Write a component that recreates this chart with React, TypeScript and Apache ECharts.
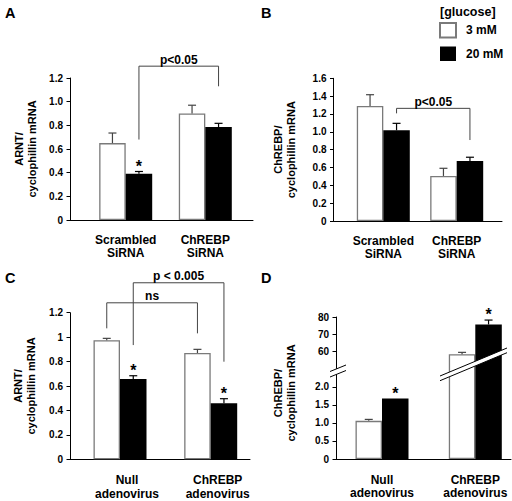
import React, { useEffect, useRef } from "react";
import * as echarts from "echarts";

// ---------------- data ----------------
const glucoseLevels = ["3 mM", "20 mM"];
const sirnaCategories = ["Scrambled\nSiRNA", "ChREBP\nSiRNA"];
const adenoCategories = ["Null\nadenovirus", "ChREBP\nadenovirus"];

// A: ARNT / cyclophillin mRNA, siRNA
const arntSirna3 = [0.65, 0.9];
const arntSirna20 = [0.39, 0.785];
const arntSirnaErr3 = [0.085, 0.07];
const arntSirnaErr20 = [0.02, 0.032];

// B: ChREBP / cyclophillin mRNA, siRNA
const chrebpSirna3 = [1.29, 0.505];
const chrebpSirna20 = [1.017, 0.673];
const chrebpSirnaErr3 = [0.126, 0.086];
const chrebpSirnaErr20 = [0.078, 0.042];

// C: ARNT / cyclophillin mRNA, adenovirus
const arntAdeno3 = [0.974, 0.87];
const arntAdeno20 = [0.657, 0.458];
const arntAdenoErr3 = [0.016, 0.03];
const arntAdenoErr20 = [0.027, 0.038];

// D: ChREBP / cyclophillin mRNA, adenovirus (broken axis)
const chrebpAdeno3 = [1.06, 58.1];
const chrebpAdeno20 = [1.68, 75.6];
const chrebpAdenoErr3 = [0.04, 1.1];
const chrebpAdenoErr20 = [0, 2.6];

const ticksA = [0, 0.2, 0.4, 0.6, 0.8, 1.0, 1.2];
const tickLabelsA = ["0", "0.2", "0.4", "0.6", "0.8", "1.0", "1.2"];
const ticksB = [0, 0.2, 0.4, 0.6, 0.8, 1.0, 1.2, 1.4, 1.6];
const tickLabelsB = ["0", "0.2", "0.4", "0.6", "0.8", "1.0", "1.2", "1.4", "1.6"];
const ticksC = [0, 0.2, 0.4, 0.6, 0.8, 1, 1.2];
const tickLabelsC = ["0", "0.2", "0.4", "0.6", "0.8", "1", "1.2"];
const ticksD = [0, 0.5, 1, 1.5, 2, 60, 70, 80];
const tickLabelsD = ["0", "0.5", "1.0", "1.5", "2.0", "60", "70", "80"];
const breakD = [2.4, 47.3]; // lower segment ends / upper segment starts

// brackets: [group1, bar1, y1, group2, bar2, y2, top]  (bar 0 = 3 mM, 1 = 20 mM)
const bracketsA = [[0, 1, 0.68, 1, 1, 1.13, 1.3]];
const bracketLabelsA = ["p<0.05"];
const bracketsB = [[0, 1, 1.207, 1, 1, 0.908, 1.263]];
const bracketLabelsB = ["p<0.05"];
const bracketsC = [
  [0, 0, 1.072, 1, 0, 1.031, 1.281],
  [0, 1, 0.935, 1, 1, 0.799, 1.445],
];
const bracketLabelsC = ["ns", "p < 0.005"];

// stars: [group, bar]
const starsA = [[0, 1]];
const starsB: number[][] = [];
const starsC = [[0, 1], [1, 1]];
const starsD = [[0, 1], [1, 1]];

// ---------------- style / layout ----------------
const FONT = "'Liberation Sans Narrow', 'Liberation Sans', Arial, sans-serif";
const FONT_WIDE = "'Liberation Sans', Arial, sans-serif";
const BAR_W = 26.5;
const D_RATIO = 1.7 / 36;
const identity = (v: number) => v;
const tfD = (v: number) => (v <= breakD[0] ? v : breakD[0] + (v - breakD[1]) * D_RATIO);

const panels = [
  {
    cats: sirnaCategories, v3: arntSirna3, v20: arntSirna20, e3: arntSirnaErr3, e20: arntSirnaErr20,
    ticks: ticksA, tickLabels: tickLabelsA, brackets: bracketsA, bracketLabels: bracketLabelsA, stars: starsA,
    tf: identity, yMax: 1.2, yTitle: "ARNT/\ncyclophillin mRNA",
    left: 70, right: 253, top: 78, bottom: 220, centers: [125.7, 205.3], nameGap: 32, labelMargin: 13, labelShift: 0,
  },
  {
    cats: sirnaCategories, v3: chrebpSirna3, v20: chrebpSirna20, e3: chrebpSirnaErr3, e20: chrebpSirnaErr20,
    ticks: ticksB, tickLabels: tickLabelsB, brackets: bracketsB, bracketLabels: bracketLabelsB, stars: starsB,
    tf: identity, yMax: 1.6, yTitle: "ChREBP/\ncyclophillin mRNA",
    left: 333.5, right: 502, top: 78.3, bottom: 221, centers: [383.3, 456.7], nameGap: 36, labelMargin: 13, labelShift: 0,
  },
  {
    cats: adenoCategories, v3: arntAdeno3, v20: arntAdeno20, e3: arntAdenoErr3, e20: arntAdenoErr20,
    ticks: ticksC, tickLabels: tickLabelsC, brackets: bracketsC, bracketLabels: bracketLabelsC, stars: starsC,
    tf: identity, yMax: 1.2, yTitle: "ARNT/\ncyclophillin mRNA",
    left: 70, right: 250, top: 312.7, bottom: 459.3, centers: [120, 210.7], nameGap: 33, labelMargin: 14, labelShift: 14,
  },
  {
    cats: adenoCategories, v3: chrebpAdeno3, v20: chrebpAdeno20, e3: chrebpAdenoErr3, e20: chrebpAdenoErr20,
    ticks: ticksD, tickLabels: tickLabelsD, brackets: [] as number[][], bracketLabels: [] as string[], stars: starsD,
    tf: tfD, yMax: tfD(80), yTitle: "",
    left: 336, right: 511, top: 317, bottom: 459, centers: [382, 475.3], nameGap: 33, labelMargin: 14, labelShift: 0,
  },
];

const AXIS_COLOR = "#000";

function buildOption() {
  const grid: any[] = [];
  const xAxis: any[] = [];
  const yAxis: any[] = [];
  const series: any[] = [];

  panels.forEach((p, i) => {
    const unit = p.centers[1] - p.centers[0];
    const xMin = -(p.centers[0] - p.left) / unit;
    const xMax = 1 + (p.right - p.centers[1]) / unit;
    grid.push({
      left: p.left, top: p.top, width: p.right - p.left, height: p.bottom - p.top,
      containLabel: false, outerBoundsMode: "none",
    });
    xAxis.push({
      gridIndex: i, type: "value", min: xMin, max: xMax,
      axisLine: { show: true, onZero: false, lineStyle: { color: AXIS_COLOR, width: 1 } },
      axisTick: { show: false },
      splitLine: { show: false },
      axisLabel: {
        customValues: [0, 1],
        formatter: (v: number) => p.cats[Math.round(v)] ?? "",
        fontSize: 12, fontWeight: "bold", fontFamily: FONT, color: "#000", lineHeight: 13.5,
        margin: p.labelMargin,
        padding: [0, 0, 0, p.labelShift],
      },
    });
    const tickVals = p.ticks.map(p.tf);
    yAxis.push({
      gridIndex: i, type: "value", min: 0, max: p.yMax,
      axisLine: { show: true, onZero: false, lineStyle: { color: AXIS_COLOR, width: 1 } },
      axisTick: { show: true, length: 3.5, customValues: tickVals, lineStyle: { color: AXIS_COLOR, width: 1 } },
      splitLine: { show: false },
      axisLabel: {
        customValues: tickVals,
        formatter: (v: number) => {
          const k = tickVals.findIndex((t) => Math.abs(t - v) < 1e-6);
          return k >= 0 ? p.tickLabels[k] : "";
        },
        fontSize: 10, fontWeight: "bold", fontFamily: FONT, color: "#000", margin: 7,
      },
      name: p.yTitle,
      nameLocation: "middle",
      nameRotate: 90,
      nameGap: p.nameGap,
      nameTextStyle: { fontSize: 11, fontWeight: "bold", fontFamily: FONT_WIDE, color: "#000", lineHeight: 13, align: "center" },
    });

    // bars
    series.push({
      type: "bar", name: glucoseLevels[0], xAxisIndex: i, yAxisIndex: i,
      data: p.v3.map((v, g) => [g, p.tf(v)]),
      barWidth: BAR_W, barGap: "0%",
      itemStyle: { color: "#fff", borderColor: "#7a7a7a", borderWidth: 1.3 },
      z: 2, silent: true,
    });
    series.push({
      type: "bar", name: glucoseLevels[1], xAxisIndex: i, yAxisIndex: i,
      data: p.v20.map((v, g) => [g, p.tf(v)]),
      barWidth: BAR_W, barGap: "0%",
      itemStyle: { color: "#000", borderColor: "#000", borderWidth: 0 },
      z: 2, silent: true,
    });

    // error bars
    const errData: number[][] = [];
    [p.v3, p.v20].forEach((vals, s) => {
      const errs = s === 0 ? p.e3 : p.e20;
      vals.forEach((v, g) => {
        if (errs[g] > 0) errData.push([g, s, p.tf(v), p.tf(v + errs[g])]);
      });
    });
    series.push({
      type: "custom", xAxisIndex: i, yAxisIndex: i, silent: true, z: 3,
      data: errData,
      renderItem: (params: any, api: any) => {
        const g = api.value(0);
        const s = api.value(1);
        const base = api.coord([g, api.value(2)]);
        const tip = api.coord([g, api.value(3)]);
        const x = base[0] + (s === 0 ? -BAR_W / 2 : BAR_W / 2);
        const stroke = s === 0 ? "#444" : "#000";
        return {
          type: "group",
          children: [
            { type: "line", shape: { x1: x, y1: base[1], x2: x, y2: tip[1] }, style: { stroke, lineWidth: 1.2 } },
            { type: "line", shape: { x1: x - 4, y1: tip[1], x2: x + 4, y2: tip[1] }, style: { stroke, lineWidth: 1.2 } },
          ],
        };
      },
    });

    // significance brackets
    if (p.brackets.length) {
      series.push({
        type: "custom", xAxisIndex: i, yAxisIndex: i, silent: true, z: 4,
        data: p.brackets.map((b) => [b[0], b[1], p.tf(b[2]), b[3], b[4], p.tf(b[5]), p.tf(b[6])]),
        renderItem: (params: any, api: any) => {
          const a = api.coord([api.value(0), api.value(2)]);
          const b = api.coord([api.value(3), api.value(5)]);
          const t = api.coord([api.value(0), api.value(6)]);
          const xa = a[0] + (api.value(1) === 0 ? -1 : 1) * (BAR_W / 2);
          const xb = b[0] + (api.value(4) === 0 ? -1 : 1) * (BAR_W / 2);
          return {
            type: "group",
            children: [
              {
                type: "polyline",
                shape: { points: [[xa, a[1]], [xa, t[1]], [xb, t[1]], [xb, b[1]]] },
                style: { stroke: "#444", lineWidth: 1, fill: "none" },
              },
              {
                type: "text", x: (xa + xb) / 2, y: t[1] - 6.5,
                style: {
                  text: p.bracketLabels[params.dataIndex], align: "center", verticalAlign: "middle",
                  fontSize: 12, fontWeight: "bold", fontFamily: FONT, fill: "#000",
                },
              },
            ],
          };
        },
      });
    }

    // significance stars
    if (p.stars.length) {
      series.push({
        type: "custom", xAxisIndex: i, yAxisIndex: i, silent: true, z: 4,
        data: p.stars.map(([g, s]) => {
          const v = (s === 0 ? p.v3 : p.v20)[g];
          const e = (s === 0 ? p.e3 : p.e20)[g];
          return [g, s, p.tf(v + e)];
        }),
        renderItem: (params: any, api: any) => {
          const pt = api.coord([api.value(0), api.value(2)]);
          const x = pt[0] + (api.value(1) === 0 ? -1 : 1) * (BAR_W / 2);
          return {
            type: "text", x, y: pt[1] - 5.3,
            style: {
              text: "*", align: "center", verticalAlign: "middle",
              fontSize: 16, fontWeight: "bold", fontFamily: FONT, fill: "#000",
            },
          };
        },
      });
    }
  });

  const letterStyle = { fontSize: 14.5, fontWeight: "bold", fontFamily: FONT, fill: "#000", align: "left", verticalAlign: "middle" };
  const breakLine = (x1: number, y1: number, x2: number, y2: number) => ({
    type: "line", z: 101, shape: { x1, y1, x2, y2 }, style: { stroke: "#000", lineWidth: 1 },
  });
  const breakBand = (pts: number[][]) => ({
    type: "polygon", z: 100, shape: { points: pts }, style: { fill: "#fff", stroke: null },
  });

  const graphic = [
    { type: "text", x: 5, y: 13, z: 100, style: { ...letterStyle, text: "A" } },
    { type: "text", x: 261, y: 13, z: 100, style: { ...letterStyle, text: "B" } },
    { type: "text", x: 5, y: 277.5, z: 100, style: { ...letterStyle, text: "C" } },
    { type: "text", x: 261, y: 277.5, z: 100, style: { ...letterStyle, text: "D" } },
    {
      type: "text", x: 440, y: 11.7, z: 100,
      style: { text: "[glucose]", fontSize: 12.5, fontWeight: "bold", fontFamily: FONT, fill: "#000", align: "left", verticalAlign: "middle" },
    },
    {
      type: "text", x: 284.3, y: 393, rotation: Math.PI / 2, z: 100,
      style: {
        text: "ChREBP/\ncyclophillin mRNA", fontSize: 11, fontWeight: "bold", fontFamily: FONT_WIDE,
        fill: "#000", align: "center", verticalAlign: "middle", lineHeight: 13,
      },
    },
    // axis break on the y axis of D
    breakBand([[330, 371.5], [346, 365], [346, 370.5], [330, 377]]),
    breakLine(330, 371.5, 346, 365),
    breakLine(330, 377, 346, 370.5),
    // axis break across the ChREBP adenovirus bars
    breakBand([[440, 376], [507, 348], [507, 352.7], [440, 380.7]]),
    breakLine(440, 376, 507, 348),
    breakLine(440, 380.7, 507, 352.7),
  ];

  return {
    animation: false,
    backgroundColor: "#fff",
    grid,
    xAxis,
    yAxis,
    series,
    legend: {
      data: glucoseLevels,
      orient: "vertical",
      left: 439,
      top: 22,
      padding: 0,
      itemWidth: 16,
      itemHeight: 14.5,
      itemGap: 8,
      icon: "rect",
      selectedMode: false,
      textStyle: { fontSize: 12, fontWeight: "bold", fontFamily: FONT, color: "#000", padding: [0, 0, 0, 5] },
    },
    graphic,
  };
}

export default function App() {
  const ref = useRef<HTMLDivElement>(null);
  useEffect(() => {
    if (!ref.current) return;
    const chart = echarts.init(ref.current, null, { renderer: "svg" });
    chart.setOption(buildOption() as any);
    return () => chart.dispose();
  }, []);
  return (
    <div
      ref={ref}
      style={{ position: "absolute", left: 0, top: 0, width: 512, height: 501, background: "#fff" }}
    />
  );
}
